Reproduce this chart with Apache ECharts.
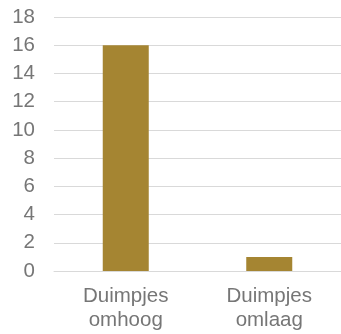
<!DOCTYPE html>
<html><head><meta charset="utf-8">
<script src="https://cdn.jsdelivr.net/npm/echarts@6/dist/echarts.min.js"></script>
<style>html,body{margin:0;padding:0;background:#fff}#c{width:341px;height:334px}</style>
</head><body><div id="c"></div>
<script>
const categories = ['Duimpjes\nomhoog', 'Duimpjes\nomlaag'];
const values = [16, 1];
const yTicks = {min: 0, max: 18, interval: 2};

const chart = echarts.init(document.getElementById('c'), null, {renderer: 'canvas'});
chart.setOption({
  animation: false,
  grid: {left: 54, top: 17, width: 290, height: 254, containLabel: false},
  xAxis: {
    type: 'category', data: categories,
    axisLine: {show: true, lineStyle: {color: '#d9d9d9', width: 1}},
    axisTick: {show: false},
    axisLabel: {color: '#767676', fontSize: 20.5, fontFamily: 'Liberation Sans, Arial, sans-serif', lineHeight: 24, margin: 13}
  },
  yAxis: {
    type: 'value', min: yTicks.min, max: yTicks.max, interval: yTicks.interval,
    axisLine: {show: false}, axisTick: {show: false},
    splitLine: {lineStyle: {color: '#d9d9d9', width: 1}},
    axisLabel: {color: '#767676', fontSize: 20.5, fontFamily: 'Liberation Sans, Arial, sans-serif', margin: 19}
  },
  series: [{
    type: 'bar', data: values, barWidth: 46,
    itemStyle: {color: '#A58532'}
  }]
});
</script></body></html>
